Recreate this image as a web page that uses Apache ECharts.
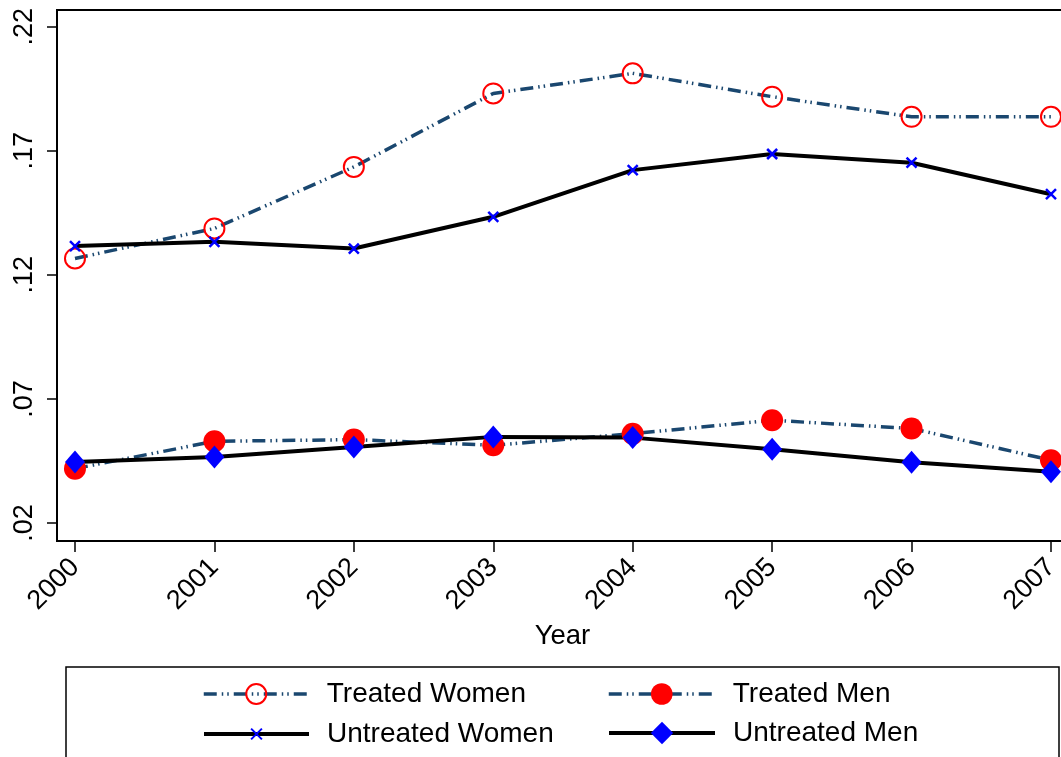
<!DOCTYPE html>
<html>
<head>
<meta charset="utf-8">
<script src="https://cdn.jsdelivr.net/npm/echarts@6/dist/echarts.min.js"></script>
<style>
html,body{margin:0;padding:0;background:#fff;overflow:hidden;}
#chart{width:1075px;height:757px;}
</style>
</head>
<body>
<div id="chart"></div>
<script>
const years = [2000, 2001, 2002, 2003, 2004, 2005, 2006, 2007];
const treatedWomen = [0.1266, 0.1387, 0.1635, 0.1931, 0.2012, 0.1918, 0.1837, 0.1837];
const treatedMen = [0.0419, 0.0529, 0.0536, 0.0513, 0.0560, 0.0614, 0.0581, 0.0453];
const untreatedWomen = [0.1316, 0.1333, 0.1306, 0.1434, 0.1622, 0.1687, 0.1652, 0.1525];
const untreatedMen = [0.0446, 0.0466, 0.0506, 0.0547, 0.0544, 0.0497, 0.0445, 0.0406];
const yTicks = [0.02, 0.07, 0.12, 0.17, 0.22];
const yTickLabels = ['.02', '.07', '.12', '.17', '.22'];
const seriesNames = ['Treated Women', 'Treated Men', 'Untreated Women', 'Untreated Men'];

const FONT = '"Liberation Sans", Arial, sans-serif';
const NAVY = '#1a476f';
const pairs = arr => years.map((y, i) => [y, arr[i]]);
const dashDot = [13, 5, 1.5, 4, 1.5, 5];

const legendText = {fontFamily: FONT, fontSize: 28, color: '#000', padding: [0, 0, 0, 13]};

const chart = echarts.init(document.getElementById('chart'), null, {renderer: 'canvas'});
chart.setOption({
  animation: false,
  backgroundColor: '#fff',
  grid: {left: 57, top: 10, right: 7, bottom: 216, show: true, borderColor: '#000', borderWidth: 2, backgroundColor: 'transparent'},
  xAxis: {
    type: 'value', min: 1999.871, max: 2007.122,
    name: 'Year', nameLocation: 'middle', nameGap: 78,
    nameTextStyle: {fontFamily: FONT, fontSize: 27.5, color: '#000'},
    axisLine: {show: true, lineStyle: {color: '#000', width: 2}},
    axisTick: {show: true, length: 11, customValues: years, lineStyle: {color: '#000', width: 1.5}},
    axisLabel: {show: true, customValues: years, rotate: 45, margin: 22, fontFamily: FONT, fontSize: 27, color: '#000',
      formatter: v => String(Math.round(v))},
    splitLine: {show: false}
  },
  yAxis: {
    type: 'value', min: 0.01274, max: 0.22673,
    axisLine: {show: true, lineStyle: {color: '#000', width: 2}},
    axisTick: {show: true, length: 10, customValues: yTicks, lineStyle: {color: '#000', width: 1.5}},
    axisLabel: {show: true, customValues: yTicks, rotate: 90, margin: 19, fontFamily: FONT, fontSize: 27, color: '#000',
      formatter: v => { const i = yTicks.findIndex(t => Math.abs(t - v) < 1e-6); return i >= 0 ? yTickLabels[i] : ''; }},
    splitLine: {show: false}
  },
  graphic: [{
    type: 'rect', shape: {x: 66, y: 667, width: 993, height: 150},
    style: {fill: 'none', stroke: '#000', lineWidth: 1.5}, silent: true, z: 0
  }],
  legend: [
    {data: [seriesNames[0]], left: 202, top: 680, padding: 0, itemWidth: 105, itemHeight: 25,
      lineStyle: {width: 3.5}, textStyle: legendText},
    {data: [seriesNames[2]], left: 202, top: 720, padding: 0, itemWidth: 105, itemHeight: 13.5,
      lineStyle: {width: 4}, textStyle: legendText},
    {data: [seriesNames[1]], left: 607, top: 680, padding: 0, itemWidth: 106, itemHeight: 27,
      lineStyle: {width: 3.5}, textStyle: legendText},
    {data: [seriesNames[3]], left: 607, top: 719, padding: 0, itemWidth: 106, itemHeight: 28,
      lineStyle: {width: 4}, textStyle: legendText}
  ],
  series: [
    {name: seriesNames[0], type: 'line', data: pairs(treatedWomen),
      lineStyle: {color: NAVY, width: 3.5, type: dashDot},
      symbol: 'circle', symbolSize: 20,
      itemStyle: {color: 'rgba(255,255,255,0)', borderColor: '#ff0000', borderWidth: 2}},
    {name: seriesNames[1], type: 'line', data: pairs(treatedMen),
      lineStyle: {color: NAVY, width: 3.5, type: dashDot},
      symbol: 'circle', symbolSize: 22,
      itemStyle: {color: '#ff0000', borderWidth: 0}},
    {name: seriesNames[2], type: 'line', data: pairs(untreatedWomen),
      lineStyle: {color: '#000', width: 4, type: 'solid'},
      symbol: 'path://M0,0L10,10M10,0L0,10', symbolSize: 10,
      itemStyle: {color: '#0000ff', borderColor: '#0000ff', borderWidth: 2.5}},
    {name: seriesNames[3], type: 'line', data: pairs(untreatedMen),
      lineStyle: {color: '#000', width: 4, type: 'solid'},
      symbol: 'diamond', symbolSize: [20, 23],
      itemStyle: {color: '#0000ff', borderWidth: 0}}
  ]
});
</script>
</body>
</html>
